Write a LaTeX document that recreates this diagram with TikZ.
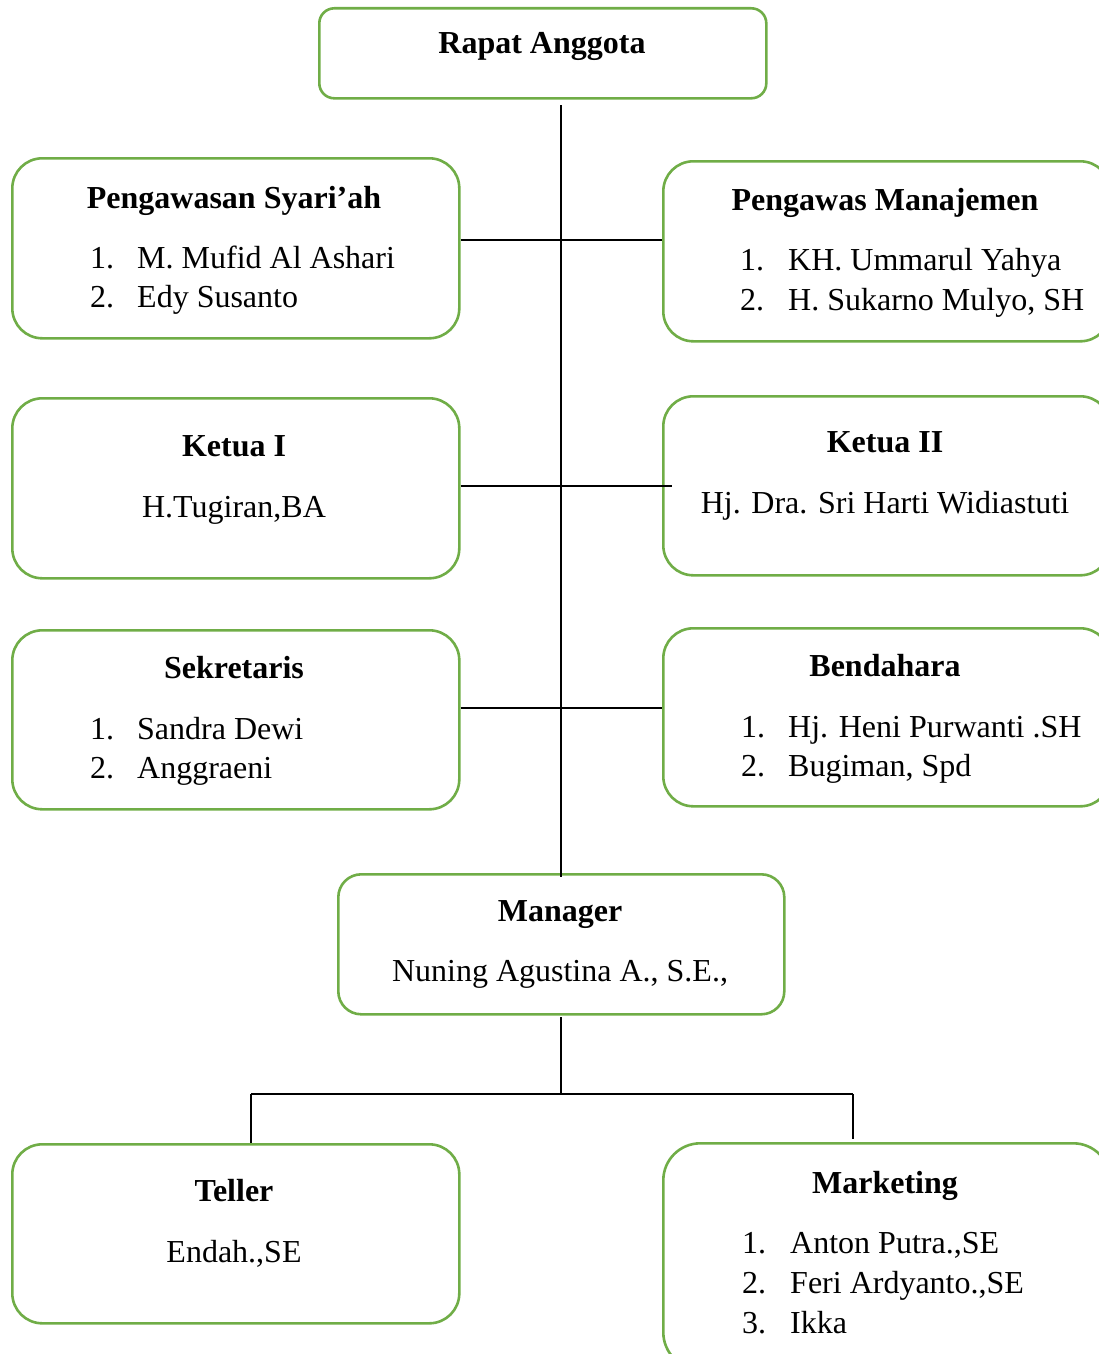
\documentclass[tikz,border=0pt]{standalone}
\usepackage{fontspec}
\setmainfont{Liberation Serif}
\definecolor{boxgreen}{RGB}{112,173,71}
\begin{document}
\begin{tikzpicture}[x=1pt,y=-1pt,
  orgbox/.style={draw=boxgreen, line width=2.6pt, minimum width=447pt, anchor=north west, inner sep=0pt},
  title/.style={anchor=base, inner sep=0pt, font=\fontsize{32}{38}\selectfont\bfseries},
  txt/.style={anchor=base, inner sep=0pt, font=\fontsize{32}{38}\selectfont},
  itm/.style={anchor=base west, inner sep=0pt, font=\fontsize{32}{38}\selectfont},
  conn/.style={draw=black, line width=1.2pt}]
\clip (0,0) rectangle (1099,1354);
% boxes
\node[orgbox, minimum height=90pt, rounded corners=15pt] (ra) at (318,7) {};
\node[orgbox, minimum height=180pt, rounded corners=30pt] (ps) at (11,157) {};
\node[orgbox, minimum height=180pt, rounded corners=30pt] (pm) at (662,160) {};
\node[orgbox, minimum height=180pt, rounded corners=30pt] (k1) at (11,397) {};
\node[orgbox, minimum height=179pt, rounded corners=30pt] (k2) at (662,395) {};
\node[orgbox, minimum height=179pt, rounded corners=30pt] (sk) at (11,629) {};
\node[orgbox, minimum height=178pt, rounded corners=30pt] (bd) at (662,627) {};
\node[orgbox, minimum height=140pt, minimum width=446pt, rounded corners=23pt] (mg) at (337,873) {};
\node[orgbox, minimum height=179pt, rounded corners=30pt] (tl) at (11,1143) {};
\node[orgbox, minimum height=226pt, rounded corners=37pt] (mk) at (662,1142) {};
% texts
\node[title] (raT) at (542,53) {Rapat Anggota};
\node[title] (psT) at (234,208) {Pengawasan Syari’ah};
\node[itm] (ps1n) at (90,268) {1.};
\node[itm] (ps1) at (137,268) {M. Mufid Al Ashari};
\node[itm] (ps2n) at (90,307) {2.};
\node[itm] (ps2) at (137,307) {Edy Susanto};
\node[title] (pmT) at (885,210) {Pengawas Manajemen};
\node[itm] (pm1n) at (740,270) {1.};
\node[itm] (pm1) at (788,270) {KH. Ummarul Yahya};
\node[itm] (pm2n) at (740,310) {2.};
\node[itm] (pm2) at (788,310) {H. Sukarno Mulyo, SH};
\node[title] (k1T) at (234,456) {Ketua I};
\node[txt] (k1a) at (234,517) {H.Tugiran,BA};
\node[title] (k2T) at (885,452) {Ketua II};
\node[txt] (k2a) at (885,513) {Hj. Dra. Sri Harti Widiastuti};
\node[title] (skT) at (234,678) {Sekretaris};
\node[itm] (sk1n) at (90,739) {1.};
\node[itm] (sk1) at (137,739) {Sandra Dewi};
\node[itm] (sk2n) at (90,778) {2.};
\node[itm] (sk2) at (137,778) {Anggraeni};
\node[title] (bdT) at (885,676) {Bendahara};
\node[itm] (bd1n) at (741,737) {1.};
\node[itm] (bd1) at (788,737) {Hj. Heni Purwanti .SH};
\node[itm] (bd2n) at (741,776) {2.};
\node[itm] (bd2) at (788,776) {Bugiman, Spd};
\node[title] (mgT) at (560,921) {Manager};
\node[txt] (mga) at (560,981) {Nuning Agustina A., S.E.,};
\node[title] (tlT) at (234,1201) {Teller};
\node[txt] (tla) at (234,1262) {Endah.,SE};
\node[title] (mkT) at (885,1193) {Marketing};
\node[itm] (mk1n) at (742,1253) {1.};
\node[itm] (mk1) at (790,1253) {Anton Putra.,SE};
\node[itm] (mk2n) at (742,1293) {2.};
\node[itm] (mk2) at (790,1293) {Feri Ardyanto.,SE};
\node[itm] (mk3n) at (742,1333) {3.};
\node[itm] (mk3) at (790,1333) {Ikka};
% connectors
\coordinate (t0) at (561,105);
\coordinate (b0) at (561,1017);
\coordinate (bj) at (561,1094);
\draw[conn] (t0) -- (mg.north -| t0) -- ++(0,4);
\draw[conn] (ps.east |- 0,240) -- (pm.west |- 0,240);
\draw[conn] (k1.east |- 0,486) -- ([xshift=10pt]k2.west |- 0,486);
\draw[conn] (sk.east |- 0,708) -- (bd.west |- 0,708);
\draw[conn] (b0) -- (bj);
\draw[conn] (251,1094) -- (853,1094);
\draw[conn] (251,1094) -- (tl.north -| 251,0);
\draw[conn] (853,1094) -- (853,1139);
\end{tikzpicture}
\end{document}
